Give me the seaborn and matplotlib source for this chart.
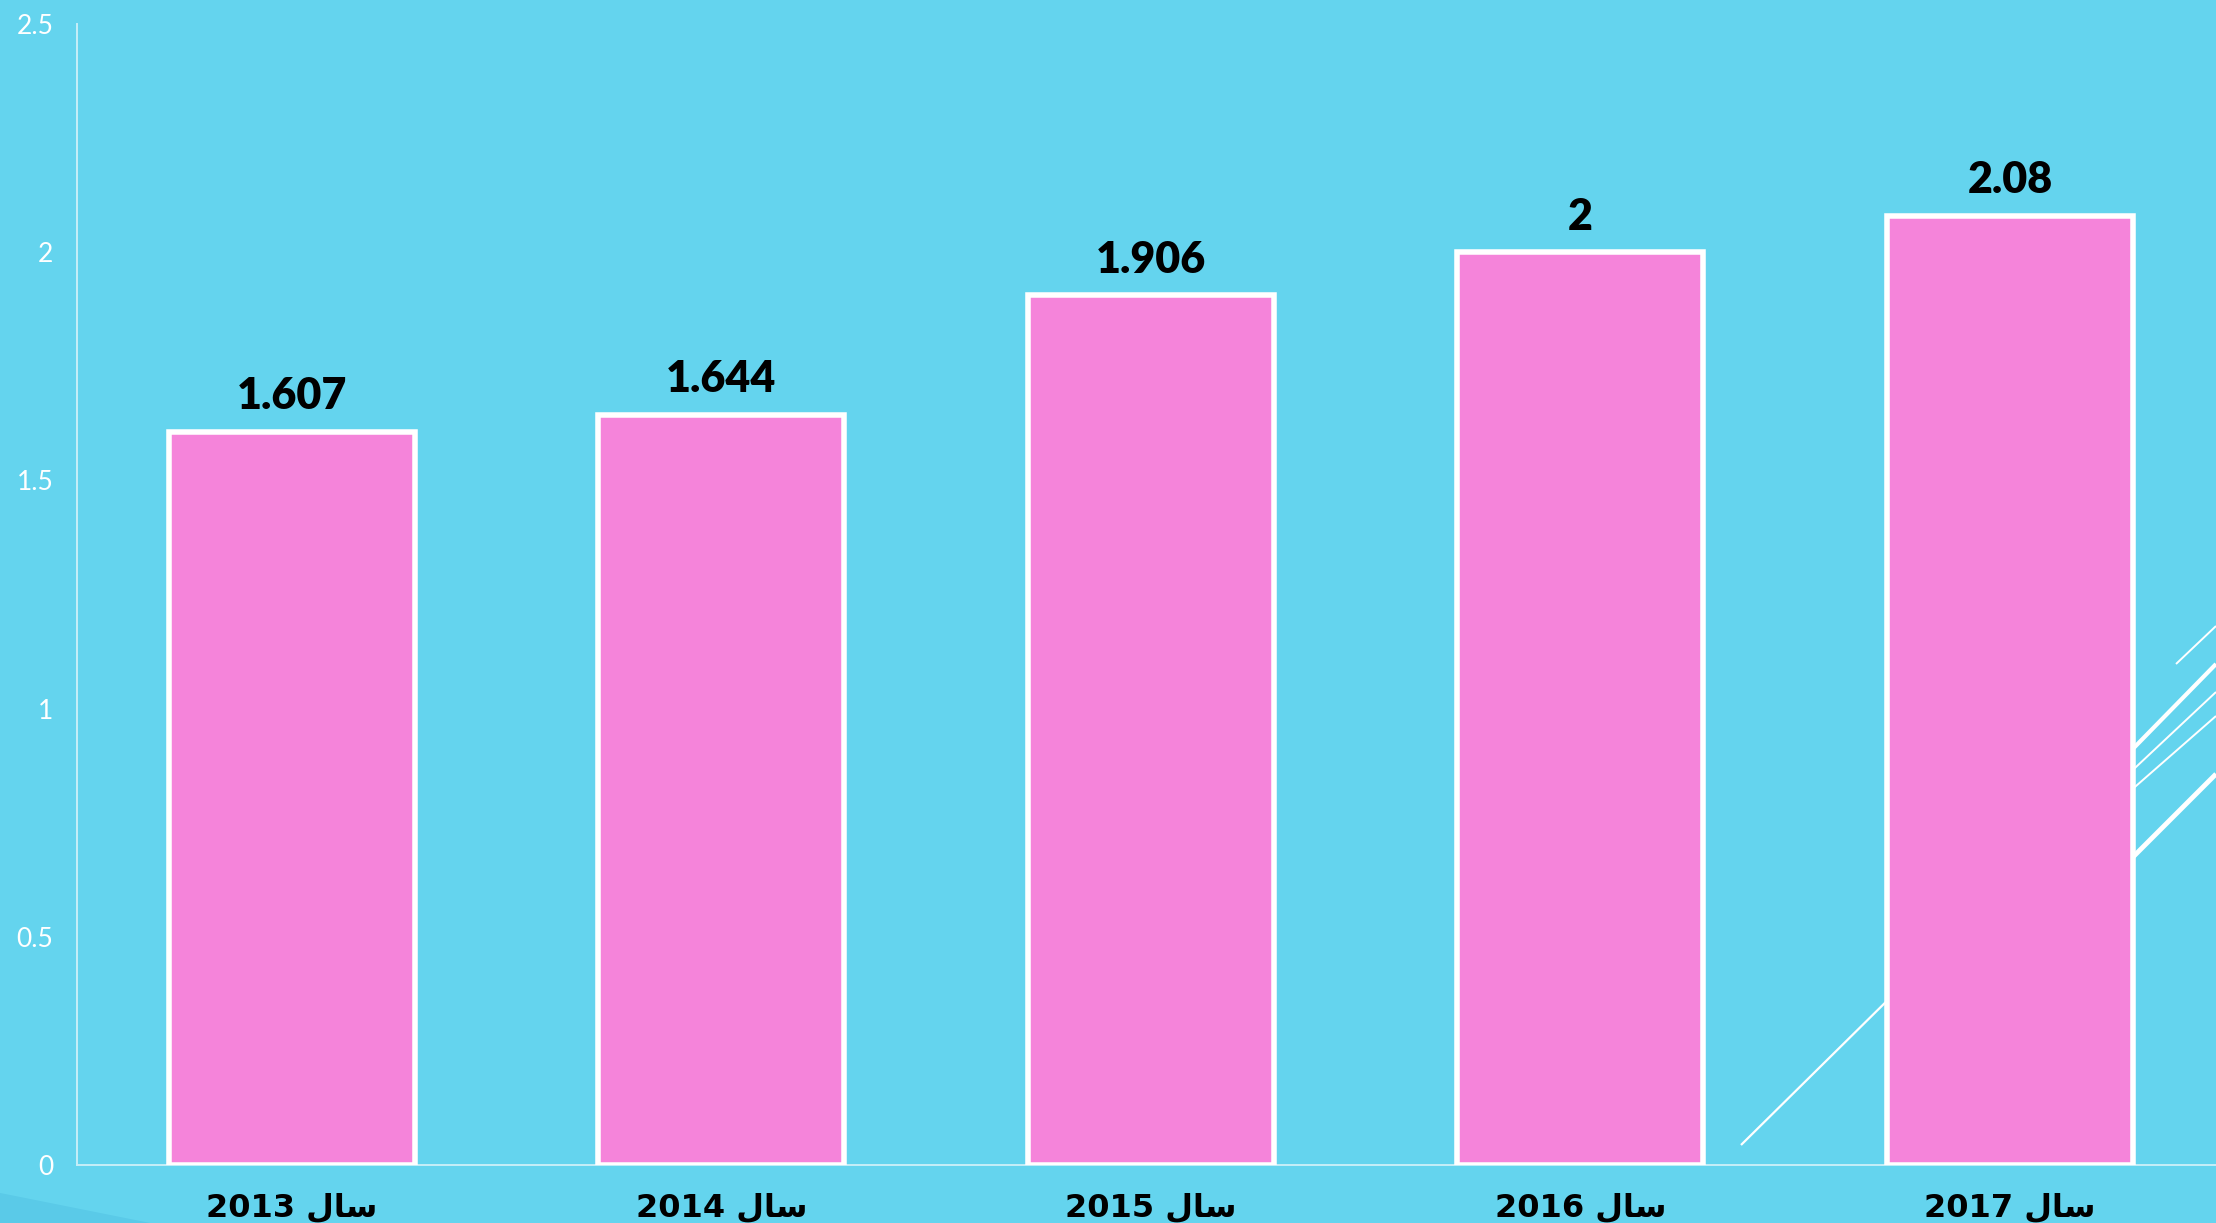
import matplotlib
matplotlib.use("Agg")
import matplotlib.pyplot as plt
from matplotlib.lines import Line2D
from matplotlib.patches import Polygon
import seaborn as sns
import pandas as pd

# ---- data ----
years = ["2013", "2014", "2015", "2016", "2017"]
values = [1.607, 1.644, 1.906, 2.0, 2.08]
value_labels = ["1.607", "1.644", "1.906", "2", "2.08"]
# Persian word "سال" (year) written in shaped presentation forms, visual order
word_year = "\uFEDD\uFE8E\uFEB3"
x_labels = [f"{y} {word_year}" for y in years]
y_ticks = [0, 0.5, 1, 1.5, 2, 2.5]
y_tick_labels = ["0", "0.5", "1", "1.5", "2", "2.5"]

BG = "#64D4EE"
PINK = "#F584DA"

sns.set_theme(style="white")
plt.rcParams["font.family"] = ["Lato", "DejaVu Sans"]

W, H = 2216, 1223
fig = plt.figure(figsize=(W / 100, H / 100), dpi=100)
fig.patch.set_facecolor(BG)

# subtle darker swoosh bottom-left
fig.patches.append(Polygon([(0, 0), (0, 30 / H), (150 / W, 0)], closed=True,
                           transform=fig.transFigure, facecolor="#5ACAE8",
                           edgecolor="none", zorder=0))

ax = fig.add_axes([77 / W, (H - 1165) / H, 1 - 77 / W, (1165 - 24) / H])
ax.set_facecolor(BG)

df = pd.DataFrame({"label": x_labels, "value": values})
sns.barplot(data=df, x="label", y="value", color=PINK, width=0.572,
            edgecolor="white", linewidth=4.0, saturation=1, ax=ax, zorder=3)

# decorative diagonal lines (background ornament)
def figline(x0, y0, x1, y1, lw):
    ln = Line2D([x0 / W, x1 / W], [1 - y0 / H, 1 - y1 / H], transform=fig.transFigure,
                color="white", lw=lw, zorder=1, clip_on=False, solid_capstyle="butt")
    ax.add_line(ln)

figline(1741, 1145, 1900, 988, 1.6)
figline(2120, 870, 2216, 774, 3.5)
figline(2120, 762, 2216, 664, 3.0)
figline(2120, 782, 2216, 692, 1.4)
figline(2120, 800, 2216, 716, 1.4)
figline(2176, 664, 2216, 626, 1.4)

ax.set_xlim(-0.5, 4.48)
ax.set_ylim(0, 2.5)
ax.set_yticks(y_ticks)
ax.set_yticklabels(y_tick_labels)
ax.set_xlabel("")
ax.set_ylabel("")

for lab in ax.get_yticklabels():
    lab.set_fontsize(19)
    lab.set_color("white")
    lab.set_fontweight("normal")
for lab in ax.get_xticklabels():
    lab.set_fontsize(23)
    lab.set_color("black")
    lab.set_fontweight("bold")
    lab.set_family(["DejaVu Sans"])

ax.tick_params(axis="both", length=0)
ax.tick_params(axis="y", pad=17)
ax.tick_params(axis="x", pad=20)

for s in ["top", "right"]:
    ax.spines[s].set_visible(False)
for s in ["left", "bottom"]:
    ax.spines[s].set_color("#C6EEF8")
    ax.spines[s].set_linewidth(1.4)
    ax.spines[s].set_zorder(2)

for i, (v, t) in enumerate(zip(values, value_labels)):
    ax.annotate(t, (i, v), xytext=(0, 11), textcoords="offset points",
                ha="center", va="bottom", fontsize=31, fontweight="heavy",
                color="black", zorder=5)

fig.savefig("out.png", dpi=100, facecolor=BG)
